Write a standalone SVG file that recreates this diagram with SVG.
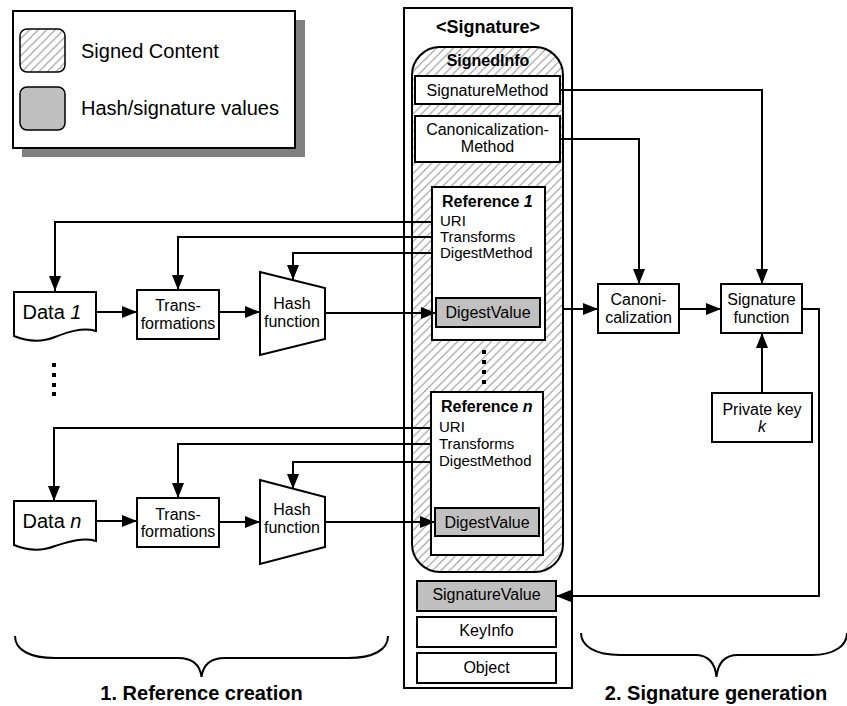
<svg xmlns="http://www.w3.org/2000/svg" width="847" height="706" viewBox="0 0 847 706">
  <defs>
    <pattern id="hatch" patternUnits="userSpaceOnUse" width="8.5" height="8.5">
      <path d="M-2,2 L2,-2 M0,8.5 L8.5,0 M6.5,10.5 L10.5,6.5" stroke="#8c8c8c" stroke-width="1"/>
    </pattern>
    <marker id="arrow" markerUnits="userSpaceOnUse" markerWidth="15" markerHeight="12" refX="15" refY="6" orient="auto">
      <path d="M0,0 L15,6 L0,12 Z" fill="#000"/>
    </marker>
    <style>
      text { font-family: "Liberation Sans", Arial, sans-serif; font-size: 16px; fill: #000; }
      .c { text-anchor: middle; }
      .b { font-weight: bold; }
      .i { font-style: italic; }
      .f { font-size: 15px; }
      .box { fill: #fff; stroke: #000; stroke-width: 2; }
      .val { fill: #c0c0c0; stroke: #000; stroke-width: 2; }
      .wire { fill: none; stroke: #000; stroke-width: 2; }
      .arr { fill: none; stroke: #000; stroke-width: 2; marker-end: url(#arrow); }
      .dot { fill: #000; }
    </style>
  </defs>

  <rect width="847" height="706" fill="#fff"/>

  <!-- legend -->
  <g id="legend">
    <rect x="22" y="20" width="283" height="137" fill="#808080"/>
    <rect x="13" y="11" width="282" height="137" class="box"/>
    <rect x="20" y="29" width="45" height="43" rx="7" fill="url(#hatch)" stroke="#000" stroke-width="1.5"/>
    <text x="81" y="58" style="font-size:20px">Signed Content</text>
    <rect x="20" y="87" width="45" height="43" rx="7" fill="#c0c0c0" stroke="#000" stroke-width="1.5"/>
    <text x="81" y="115" style="font-size:20px">Hash/signature values</text>
  </g>

  <!-- <Signature> element -->
  <g id="signature">
    <rect x="404" y="8" width="168" height="680" class="box"/>
    <text x="488" y="33" class="c b" style="font-size:18px">&lt;Signature&gt;</text>
  </g>

  <g id="signedinfo">
    <rect x="412" y="47" width="151" height="525" rx="28" fill="url(#hatch)" stroke="#000" stroke-width="2"/>
    <text x="488" y="66" class="c b">SignedInfo</text>
  </g>

  <g id="signaturemethod">
    <rect x="415" y="76" width="145" height="28" class="box"/>
    <text x="487.5" y="96" class="c">SignatureMethod</text>
  </g>

  <g id="canonicalizationmethod">
    <rect x="415" y="116" width="145" height="46" class="box"/>
    <text x="487.5" y="135" class="c">Canonicalization-</text>
    <text x="487.5" y="152" class="c">Method</text>
  </g>

  <g id="reference1">
    <rect x="432" y="187" width="113" height="153" class="box"/>
    <text x="442" y="207" class="b">Reference <tspan class="i">1</tspan></text>
    <text x="440" y="226" class="f">URI</text>
    <text x="440" y="242" class="f">Transforms</text>
    <text x="440" y="258" class="f">DigestMethod</text>
    <rect x="436" y="298" width="104" height="29" class="val"/>
    <text x="488" y="318" class="c">DigestValue</text>
  </g>

  <g id="reference-dots">
    <rect x="482" y="350" width="4" height="4" class="dot"/>
    <rect x="482" y="360" width="4" height="4" class="dot"/>
    <rect x="482" y="370" width="4" height="4" class="dot"/>
    <rect x="482" y="380" width="4" height="4" class="dot"/>
  </g>

  <g id="referencen">
    <rect x="431" y="392" width="112" height="163" class="box"/>
    <text x="441" y="412" class="b">Reference <tspan class="i">n</tspan></text>
    <text x="439" y="432" class="f">URI</text>
    <text x="439" y="449" class="f">Transforms</text>
    <text x="439" y="466" class="f">DigestMethod</text>
    <rect x="435" y="508" width="104" height="28" class="val"/>
    <text x="487" y="528" class="c">DigestValue</text>
  </g>

  <g id="signaturevalue">
    <rect x="417" y="581" width="139" height="30" class="val"/>
    <text x="486.5" y="600" class="c">SignatureValue</text>
  </g>

  <g id="keyinfo">
    <rect x="417" y="617" width="139" height="30" class="box"/>
    <text x="486.5" y="636" class="c">KeyInfo</text>
  </g>

  <g id="object">
    <rect x="417" y="653" width="139" height="30" class="box"/>
    <text x="486.5" y="673" class="c">Object</text>
  </g>

  <!-- reference 1 pipeline -->
  <g id="data1">
    <path d="M14,292 H96 V331 C82,327 68,332 55,337 C40,343 26,341 14,336 Z" class="box"/>
    <text x="52" y="319" class="c" style="font-size:20px">Data <tspan class="i">1</tspan></text>
  </g>
  <g id="transforms1">
    <rect x="137" y="290" width="82" height="49" class="box"/>
    <text x="178" y="311" class="c">Trans-</text>
    <text x="178" y="329" class="c">formations</text>
  </g>
  <g id="hash1">
    <path d="M260,272 L325,288 L325,339 L260,355 Z" class="box"/>
    <text x="292" y="309" class="c">Hash</text>
    <text x="292" y="327" class="c">function</text>
  </g>

  <g id="data-dots">
    <rect x="52" y="363" width="4" height="4" class="dot"/>
    <rect x="52" y="373" width="4" height="4" class="dot"/>
    <rect x="52" y="383" width="4" height="4" class="dot"/>
    <rect x="52" y="392" width="4" height="4" class="dot"/>
  </g>

  <!-- reference n pipeline -->
  <g id="datan">
    <path d="M14,501 H96 V541 C82,537 68,542 55,546 C40,552 26,550 14,545 Z" class="box"/>
    <text x="52" y="528" class="c" style="font-size:20px">Data <tspan class="i">n</tspan></text>
  </g>
  <g id="transformsn">
    <rect x="137" y="498" width="82" height="49" class="box"/>
    <text x="178" y="520" class="c">Trans-</text>
    <text x="178" y="537" class="c">formations</text>
  </g>
  <g id="hashn">
    <path d="M260,480 L325,497 L325,547 L260,564 Z" class="box"/>
    <text x="292" y="515" class="c">Hash</text>
    <text x="292" y="533" class="c">function</text>
  </g>

  <!-- signature generation -->
  <g id="canonicalization">
    <rect x="598" y="284" width="81" height="49" class="box"/>
    <text x="638.5" y="305" class="c">Canoni-</text>
    <text x="638.5" y="323" class="c">calization</text>
  </g>
  <g id="signaturefunction">
    <rect x="721" y="284" width="81" height="49" class="box"/>
    <text x="761.5" y="305" class="c">Signature</text>
    <text x="761.5" y="323" class="c">function</text>
  </g>
  <g id="privatekey">
    <rect x="712" y="393" width="100" height="49" class="box"/>
    <text x="762" y="415" class="c">Private key</text>
    <text x="762" y="432" class="c i">k</text>
  </g>

  <!-- connectors -->
  <g id="connectors">
    <path d="M432,222 H55 V291" class="arr"/>
    <path d="M432,237 H178 V290" class="arr"/>
    <path d="M432,253 H293 V280" class="arr"/>
    <path d="M96,312 H137" class="arr"/>
    <path d="M219,312 H260" class="arr"/>
    <path d="M325,313 H436" class="arr"/>

    <path d="M431,428 H54 V501" class="arr"/>
    <path d="M431,444 H178 V498" class="arr"/>
    <path d="M431,462 H293 V489" class="arr"/>
    <path d="M96,521 H137" class="arr"/>
    <path d="M219,522 H260" class="arr"/>
    <path d="M325,522 H435" class="arr"/>

    <path d="M563,309 H598" class="arr"/>
    <path d="M560,139 H639 V284" class="arr"/>
    <path d="M560,90 H762 V284" class="arr"/>
    <path d="M679,309 H721" class="arr"/>
    <path d="M762,393 V333" class="arr"/>
    <path d="M802,309 H819 V596 H556" class="arr"/>
  </g>

  <!-- phase braces -->
  <g id="phase1">
    <path d="M15,636 C15,650 30,658 55,658 H178 C192,658 200,665 201.5,677 C203,665 211,658 225,658 H348 C373,658 388,650 388,636" class="wire"/>
    <text x="201.5" y="700" class="c b" style="font-size:20px">1. Reference creation</text>
  </g>
  <g id="phase2">
    <path d="M581,633 C581,646 595,655 620,655 H695 C708,655 715,662 716.5,677 C718,662 725,655 738,655 H812 C835,655 847,645 847,633" class="wire"/>
    <text x="716" y="700" class="c b" style="font-size:20px">2. Signature generation</text>
  </g>
</svg>
